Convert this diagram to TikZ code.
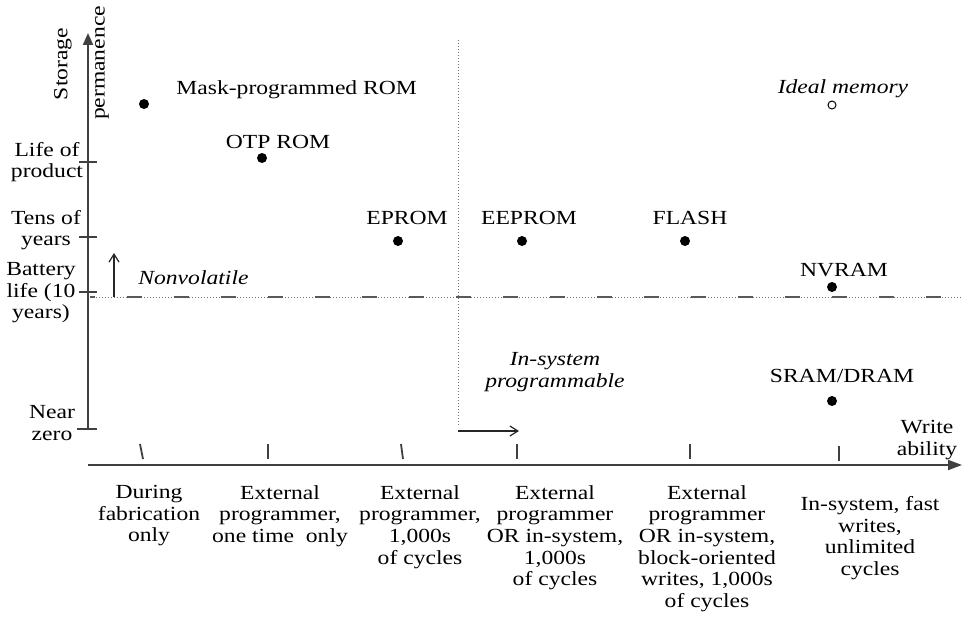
\documentclass[tikz,border=0pt]{standalone}
\usepackage{fontspec}
\setmainfont{Liberation Serif}[FakeStretch=1.18]
\usetikzlibrary{arrows.meta}
\begin{document}
\begin{tikzpicture}[x=0.5pt,y=-0.5pt,
  every node/.style={inner sep=0pt, font=\fontsize{10}{10.8}\selectfont},
  dot/.style={circle,fill=black,minimum size=5pt},
  opendot/.style={circle,draw=black,line width=0.5pt,minimum size=4pt,fill=white},
  axis/.style={line width=1pt,draw=black!75},
  tickmark/.style={line width=0.9pt,draw=black!75},
  guide/.style={densely dotted,line width=0.5pt,draw=black!55},
  lab/.style={align=center},
  itlab/.style={font=\fontsize{10}{10.8}\selectfont\itshape},
  thin arrow/.style={line width=0.6pt,draw=black!85,-{Straight Barb[length=4pt,width=5pt]}}]
\fill[white] (0,0) rectangle (963,642);
\useasboundingbox (0,0) rectangle (963,642);

% axes
\coordinate (yb) at (88,429);
\coordinate (yt) at (88,33);
\coordinate (xl) at (88,465);
\coordinate (xr) at (962,465);
\draw[axis,-{Triangle[length=6pt,width=5pt]}] (yb) -- (yt);
\draw[axis,-{Triangle[length=7pt,width=5pt]}] (xl) -- (xr);

% y ticks
\draw[tickmark] (79,162) -- (97,162);
\draw[tickmark] (79,237) -- (97,237);
\draw[tickmark] (79,292) -- (97,292);
\draw[tickmark] (77,429) -- (97,429);

% x ticks
\draw[tickmark] (140,444) -- (143,459);
\draw[tickmark] (268,444) -- (268,459);
\draw[tickmark] (401,444) -- (403,459);
\draw[tickmark] (517,444) -- (517,459);
\draw[tickmark] (690,444) -- (690,459);
\draw[tickmark] (839,446) -- (839,461);

% axis titles
\node[rotate=90] (storage) at (63,64) {Storage};
\node[rotate=90] (perm) at (102,63) {permanence};
\node[lab] (write) at (927,440) {Write\\ability};

% y labels
\node[lab] (lifeof) at (47,162) {Life of\\product};
\node[lab] (tens) at (46,230) {Tens of\\years};
\node[lab] (battery) at (41,293) {Battery\\life (10\\years)};
\node[lab] (nearzero) at (52,423) {Near\\zero};

% guide lines
\coordinate (h1) at (90,297);
\coordinate (h2) at (963,297);
\draw[guide] (h1) -- (h2);
\draw[line width=0.8pt,draw=black!65,dash pattern=on 7.5pt off 16pt,dash phase=5pt] (h1) -- (h2);
\coordinate (v1) at (458,40);
\coordinate (v2) at (458,425);
\draw[guide] (v1) -- (v2);

% arrows
\coordinate (nv1) at (114,297);
\coordinate (nv2) at (114,253);
\draw[thin arrow] (nv1) -- (nv2);
\coordinate (is1) at (458,431);
\coordinate (is2) at (519,431);
\draw[thin arrow] (is1) -- (is2);

\node[itlab,anchor=base west] (nonvol) at (138,284) {Nonvolatile};
\node[itlab,lab] (insys) at (555,372) {In-system\\programmable};

% memory points
\node[dot] (mask) at (144,104) {};
\node[anchor=base west] (masklab) at (176,94.5) {Mask-programmed ROM};
\node[dot] (otp) at (262,158) {};
\node[anchor=base] (otplab) at (278,148.5) {OTP ROM};
\node[dot] (eprom) at (398,241) {};
\node[anchor=base] (epromlab) at (407,224.5) {EPROM};
\node[dot] (eeprom) at (522,241) {};
\node[anchor=base] (eepromlab) at (529,224.5) {EEPROM};
\node[dot] (flash) at (685,241) {};
\node[anchor=base] (flashlab) at (690,224.5) {FLASH};
\node[dot] (nvram) at (832,287) {};
\node[anchor=base] (nvramlab) at (844,276.5) {NVRAM};
\node[dot] (sram) at (832,401) {};
\node[anchor=base] (sramlab) at (842,382.5) {SRAM/DRAM};
\node[opendot] (ideal) at (832,105) {};
\node[itlab,anchor=base] (ideallab) at (843,94) {Ideal memory};

% x labels
\node[lab,anchor=north] (c1) at (149,485) {During\\fabrication\\only};
\node[lab,anchor=north] (c2) at (280,485) {External\\programmer,\\one time\ \ only};
\node[lab,anchor=north] (c3) at (420,485) {External\\programmer,\\1,000s\\of cycles};
\node[lab,anchor=north] (c4) at (555,485) {External\\programmer\\OR in-system,\\1,000s\\of cycles};
\node[lab,anchor=north] (c5) at (707,485) {External\\programmer\\OR in-system,\\block-oriented\\writes, 1,000s\\of cycles};
\node[lab,anchor=north] (c6) at (870,496) {In-system, fast\\writes,\\unlimited\\cycles};
\end{tikzpicture}
\end{document}
